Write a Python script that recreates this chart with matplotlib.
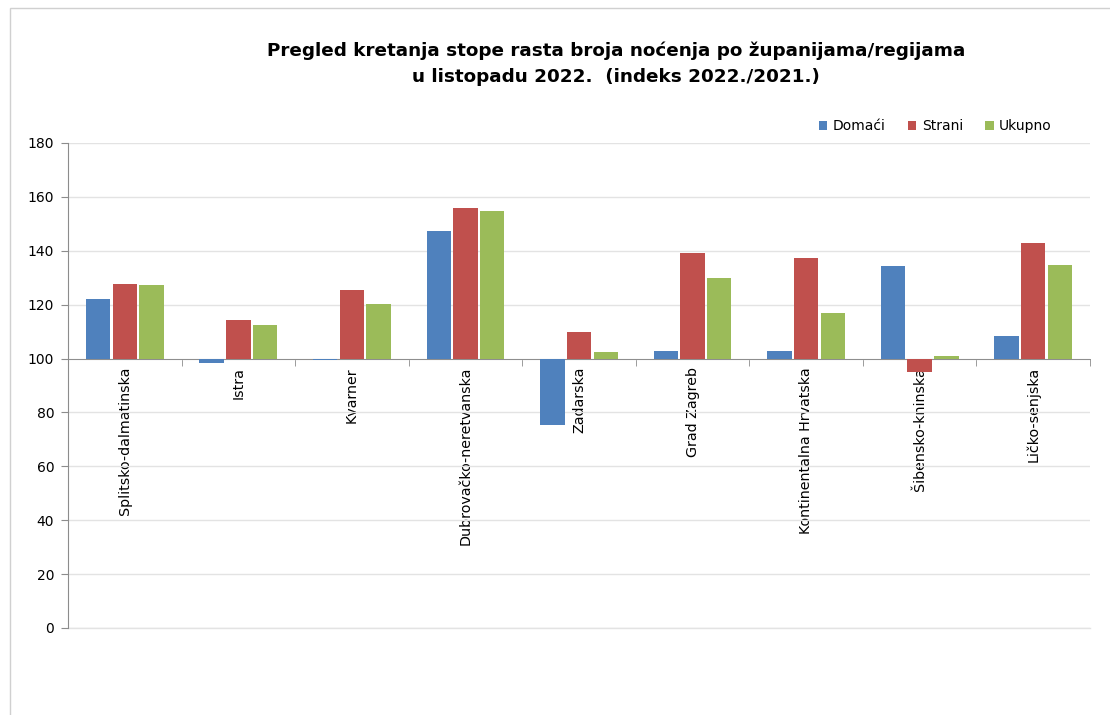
import matplotlib.pyplot as plt
import numpy as np
from matplotlib.patches import Rectangle

# indeks 2022./2021. po zupanijama
regije = ['Splitsko-dalmatinska', 'Istra', 'Kvarner', 'Dubrovačko-neretvanska',
          'Zadarska', 'Grad Zagreb', 'Kontinentalna Hrvatska', 'Šibensko-kninska',
          'Ličko-senjska']
domaci = [122.0, 98.5, 99.3, 147.4, 75.4, 102.8, 102.8, 134.3, 108.4]
strani = [127.7, 114.2, 125.4, 155.7, 109.8, 139.3, 137.2, 94.9, 142.8]
ukupno = [127.2, 112.4, 120.3, 154.8, 102.3, 129.8, 116.8, 101.0, 134.7]

serije = [('Domaći', domaci, '#4F81BD'),
          ('Strani', strani, '#C0504D'),
          ('Ukupno', ukupno, '#9BBB59')]

fig = plt.figure(figsize=(11.1, 7.15), dpi=100)
ax = fig.add_axes([0.0613, 0.1217, 0.9207, 0.6783])

# okvir grafikona
fig.patches.append(Rectangle((0.009, -0.01), 1.0, 0.999, transform=fig.transFigure,
                             fill=False, edgecolor='#d0d0d0', linewidth=1))

x = np.arange(len(regije))
w = 0.215
step = 0.235
for i, (naziv, vals, boja) in enumerate(serije):
    vals = np.array(vals)
    ax.bar(x + (i - 1) * step, vals - 100, width=w, bottom=100, color=boja,
           edgecolor='none', label=naziv, zorder=5)

ax.set_ylim(0, 180)
ax.set_xlim(-0.5, len(regije) - 0.5)
ax.set_yticks(range(0, 181, 20))
ax.yaxis.grid(True, color='#e3e3e3', linewidth=1, zorder=0)
ax.axhline(0, color='#e3e3e3', linewidth=1, clip_on=False, zorder=1)

ax.spines['top'].set_visible(False)
ax.spines['right'].set_visible(False)
ax.spines['left'].set_color('#8c8c8c')
ax.spines['bottom'].set_position(('data', 100))
ax.spines['bottom'].set_color('#8c8c8c')
ax.spines['bottom'].set_linewidth(0.7)
ax.spines['bottom'].set_zorder(4)

ax.set_xticks(x)
ax.set_xticklabels(regije, rotation=90, va='top', ha='center', fontsize=10.3)
ax.set_xticks(np.arange(len(regije) + 1) - 0.5, minor=True)
ax.tick_params(axis='x', which='major', length=0, pad=6)
ax.tick_params(axis='x', which='minor', length=5, color='#8c8c8c')
ax.tick_params(axis='y', length=5, color='#8c8c8c', labelsize=10, pad=5)

fig.suptitle('Pregled kretanja stope rasta broja noćenja po županijama/regijama\n'
             'u listopadu 2022.  (indeks 2022./2021.)',
             x=0.555, y=0.942, fontsize=13.2, fontweight='bold', linespacing=1.55)

ax.legend(loc='upper right', bbox_to_anchor=(0.975, 1.075), ncol=3, frameon=False,
          fontsize=10, handlelength=0.6, handleheight=0.6, handletextpad=0.4,
          columnspacing=1.6)

fig.savefig('out.png', dpi=100)
